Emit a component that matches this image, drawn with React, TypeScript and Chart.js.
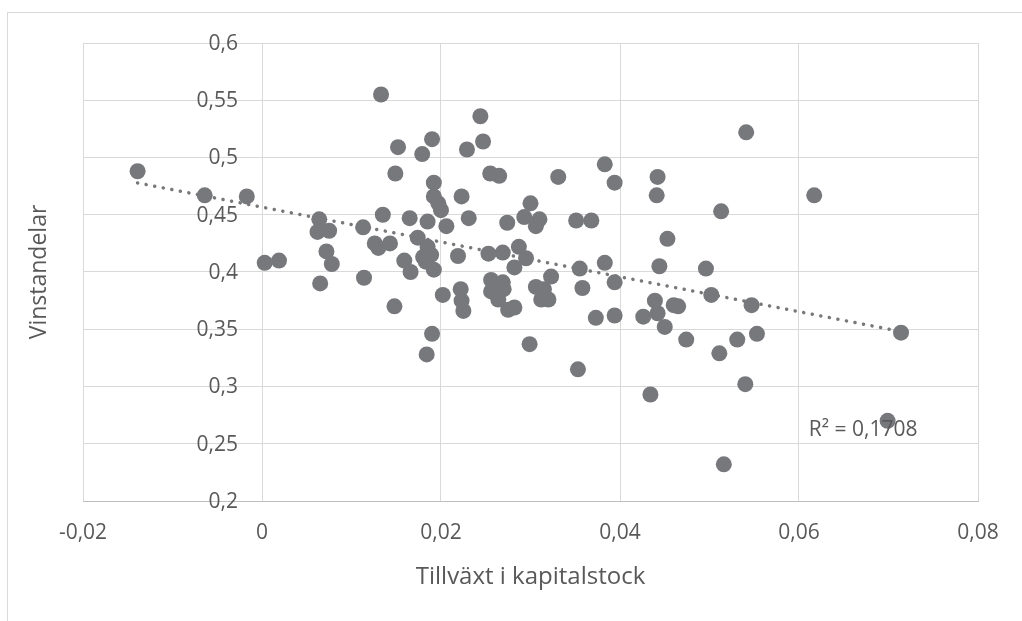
import React, { useEffect, useRef } from "react";
import { Chart, registerables } from "chart.js";

Chart.register(...registerables);

// Scatter data: growth in capital stock (x) vs profit share (y)
const xValues: number[] = [
  -0.0139, -0.0064, -0.0017, 0.0003, 0.0019, 0.0064, 0.0062, 0.0075, 0.0072, 0.0078,
  0.0065, 0.0114, 0.0113, 0.0133, 0.0152, 0.019, 0.0179, 0.0149, 0.0192, 0.0192,
  0.0197, 0.02, 0.0223, 0.0244, 0.0247, 0.0229, 0.0255, 0.0265, 0.0331, 0.0383,
  0.0394, 0.03, 0.0293, 0.031, 0.0306, 0.0274, 0.0231, 0.0206, 0.0185, 0.0165,
  0.0135, 0.0126, 0.013, 0.0143, 0.0174, 0.0185, 0.0189, 0.018, 0.0183, 0.0159,
  0.0166, 0.0192, 0.0219, 0.0148, 0.0202, 0.0222, 0.0223, 0.0225, 0.019, 0.0184,
  0.0253, 0.0269, 0.0287, 0.0295, 0.0282, 0.0256, 0.0269, 0.0256, 0.027, 0.0264,
  0.0275, 0.0282, 0.0323, 0.0306, 0.0315, 0.0312, 0.032, 0.0299, 0.0353, 0.0351,
  0.0368, 0.0355, 0.0383, 0.0358, 0.0394, 0.0373, 0.0394, 0.0426, 0.0439, 0.0442,
  0.046, 0.0465, 0.045, 0.0474, 0.0434, 0.0442, 0.0441, 0.0513, 0.0453, 0.0444,
  0.0496, 0.0502, 0.0547, 0.0531, 0.0553, 0.0511, 0.054, 0.0699, 0.0516, 0.0541,
  0.0617, 0.0714,
];
const yValues: number[] = [
  0.488, 0.467, 0.466, 0.408, 0.41, 0.446, 0.435, 0.436, 0.418, 0.407,
  0.39, 0.395, 0.439, 0.555, 0.509, 0.516, 0.503, 0.486, 0.478, 0.466,
  0.46, 0.454, 0.466, 0.536, 0.514, 0.507, 0.486, 0.484, 0.483, 0.494,
  0.478, 0.46, 0.448, 0.446, 0.44, 0.443, 0.447, 0.44, 0.444, 0.447,
  0.45, 0.425, 0.421, 0.425, 0.43, 0.422, 0.415, 0.413, 0.409, 0.41,
  0.4, 0.402, 0.414, 0.37, 0.38, 0.385, 0.375, 0.366, 0.346, 0.328,
  0.416, 0.417, 0.422, 0.412, 0.404, 0.393, 0.391, 0.383, 0.385, 0.376,
  0.367, 0.369, 0.396, 0.387, 0.385, 0.376, 0.376, 0.337, 0.315, 0.445,
  0.445, 0.403, 0.408, 0.386, 0.391, 0.36, 0.362, 0.361, 0.375, 0.364,
  0.371, 0.37, 0.352, 0.341, 0.293, 0.483, 0.467, 0.453, 0.429, 0.405,
  0.403, 0.38, 0.371, 0.341, 0.346, 0.329, 0.302, 0.27, 0.232, 0.522,
  0.467, 0.347,
];

// Linear trendline end points (as drawn)
const trendX: number[] = [-0.0139, 0.0714];
const trendY: number[] = [0.4778, 0.348];

const rSquaredLabel = "R² = 0,1708";
const rLabelPos: number[] = [0.0611, 0.2623];

const xTitle = "Tillväxt i kapitalstock";
const yTitle = "Vinstandelar";

// value axis (y) crosses the horizontal axis at this x value
const yAxisCrossing = 0;

const FONT = "'Open Sans', 'Noto Sans', sans-serif";
const TEXT = "#595959";
const GRID = "#d9d9d9";
const MARK = "#77787c";

const fmt = (v: number) => {
  const r = Math.round(v * 100) / 100;
  if (r === 0) return "0";
  return String(r).replace(".", ",");
};

export default function App() {
  const ref = useRef<HTMLCanvasElement | null>(null);

  useEffect(() => {
    if (!ref.current) return;
    const textPlugin = {
      id: "extraText",
      afterDraw(chart: any) {
        const { ctx, scales } = chart;
        ctx.save();
        ctx.font = `21px ${FONT}`;
        ctx.fillStyle = TEXT;
        // y tick labels next to the crossing axis
        const ax = scales.x.getPixelForValue(yAxisCrossing) - 24;
        ctx.textAlign = "right";
        ctx.textBaseline = "middle";
        scales.y.ticks.forEach((t: any) => {
          ctx.fillText(fmt(t.value), ax, scales.y.getPixelForValue(t.value) + 1);
        });
        // R squared label
        const px = scales.x.getPixelForValue(rLabelPos[0]);
        const py = scales.y.getPixelForValue(rLabelPos[1]);
        ctx.textAlign = "left";
        ctx.fillText(rSquaredLabel, px, py);
        ctx.restore();
      },
    };

    const chart = new Chart(ref.current, {
      type: "scatter",
      data: {
        datasets: [
          {
            type: "line",
            data: trendX.map((x, i) => ({ x, y: trendY[i] })),
            borderColor: MARK,
            borderWidth: 3.5,
            borderDash: [0.1, 8.6],
            borderCapStyle: "round",
            pointRadius: 0,
            fill: false,
            order: 0,
          } as any,
          {
            data: xValues.map((x, i) => ({ x, y: yValues[i] })),
            backgroundColor: MARK,
            borderWidth: 0,
            pointRadius: 8,
            order: 1,
          },
        ],
      },
      options: {
        responsive: false,
        animation: false,
        devicePixelRatio: 1,
        layout: { padding: { left: 0, top: 43, right: 44, bottom: 0 } },
        plugins: { legend: { display: false }, tooltip: { enabled: false } },
        scales: {
          x: {
            type: "linear",
            min: -0.02,
            max: 0.08,
            afterFit: (s: any) => {
              s.height = 120;
            },
            ticks: {
              stepSize: 0.02,
              color: TEXT,
              font: { family: FONT, size: 21 },
              padding: 19,
              callback: (v: any) => fmt(Number(v)),
            },
            grid: { color: GRID, lineWidth: 1, drawTicks: false },
            border: { display: true, color: "#bfbfbf", width: 1 },
            title: {
              display: true,
              text: xTitle,
              color: TEXT,
              font: { family: FONT, size: 24 },
              padding: { top: 0, bottom: 29 },
            },
          },
          y: {
            type: "linear",
            min: 0.2,
            max: 0.6,
            afterFit: (s: any) => {
              s.width = 83;
            },
            ticks: {
              stepSize: 0.05,
              display: false,
            },
            grid: { color: GRID, lineWidth: 1, drawTicks: false },
            border: { display: false },
            title: {
              display: true,
              text: yTitle,
              color: TEXT,
              font: { family: FONT, size: 23 },
              padding: { top: 26, bottom: 0 },
            },
          },
        },
      },
      plugins: [textPlugin],
    });
    return () => chart.destroy();
  }, []);

  return (
    <div
      style={{
        position: "fixed",
        left: 0,
        top: 0,
        width: 1022,
        height: 621,
        overflow: "hidden",
        background: "#ffffff",
      }}
    >
      <div
        style={{
          position: "absolute",
          left: 7,
          top: 12,
          width: 1100,
          height: 700,
          border: "1px solid #d9d9d9",
        }}
      />
      <canvas
        ref={ref}
        width={1022}
        height={621}
        style={{ position: "absolute", left: 0, top: 0, width: 1022, height: 621 }}
      />
    </div>
  );
}
